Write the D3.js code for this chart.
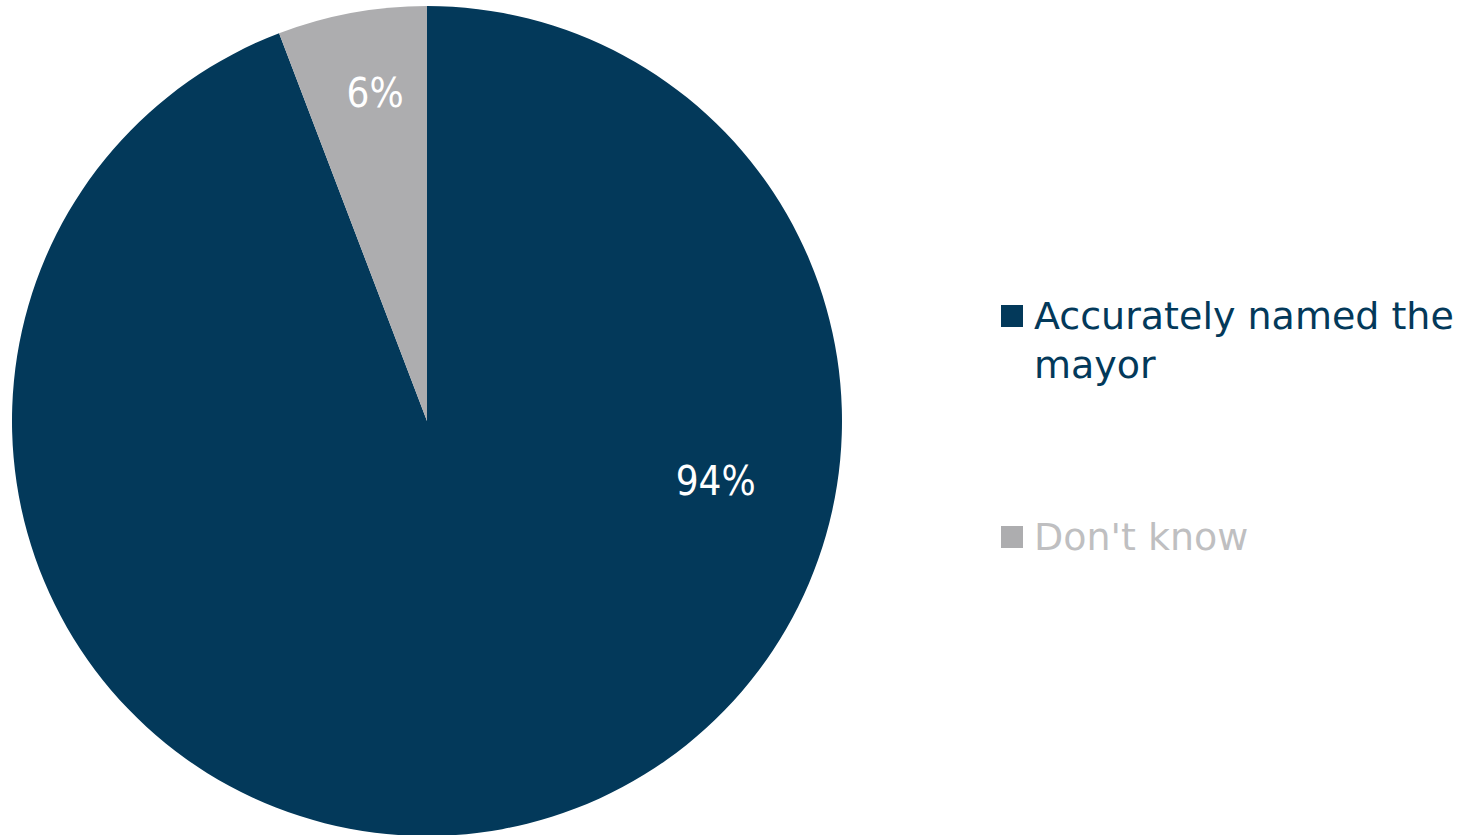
<!DOCTYPE html>
<html><head><meta charset="utf-8">
<script src="https://cdn.jsdelivr.net/npm/d3@7"></script>
<style>body{margin:0;background:#fff;} svg{display:block;font-family:"DejaVu Sans",sans-serif;}</style>
</head><body>
<svg id="c" width="1468" height="835"></svg>
<script>
const categories = ["Accurately named the mayor", "Don't know"];
const values = [94.2, 5.8];
const labels = ["94%", "6%"];
const legendLines = [["Accurately named the", "mayor"], ["Don't know"]];
const colors = ["#03395A", "#ADADAF"];
const legendTextColors = ["#03395A", "#BFBFC1"];

const svg = d3.select("#c");
const cx = 427, cy = 421, r = 415;
const g = svg.append("g").attr("transform", `translate(${cx},${cy})`);
const pie = d3.pie().sort(null).value(d => d)(values);
const arc = d3.arc().innerRadius(0).outerRadius(r);
g.selectAll("path").data(pie).join("path").attr("d", arc).attr("fill", (d, i) => colors[i]);

// label placement (angle in degrees, radius fraction)
const labelPos = [{a: 101.6, f: 0.71}, {a: -9, f: 0.80}];
g.selectAll("text.lbl").data(pie).join("text").attr("class", "lbl")
  .attr("transform", (d, i) => {
    const p = d3.pointRadial(labelPos[i].a * Math.PI / 180, r * labelPos[i].f);
    return `translate(${p[0]},${p[1]})`;
  })
  .attr("text-anchor", "middle").attr("dy", "0.36em")
  .attr("fill", "#fff").attr("font-size", 40)
  .attr("font-family", "'DejaVu Sans Condensed','DejaVu Sans',sans-serif")
  .text((d, i) => labels[i]);

const legY = [305, 526];
const lg = svg.append("g");
categories.forEach((c, i) => {
  lg.append("rect").attr("x", 1001).attr("y", legY[i]).attr("width", 22).attr("height", 22).attr("fill", colors[i]);
  const t = lg.append("text").attr("x", 1034).attr("y", legY[i] + 24).attr("font-size", 38).attr("fill", legendTextColors[i]);
  legendLines[i].forEach((ln, j) => {
    t.append("tspan").attr("x", 1034).attr("dy", j === 0 ? 0 : 49).text(ln);
  });
});
</script>
</body></html>
